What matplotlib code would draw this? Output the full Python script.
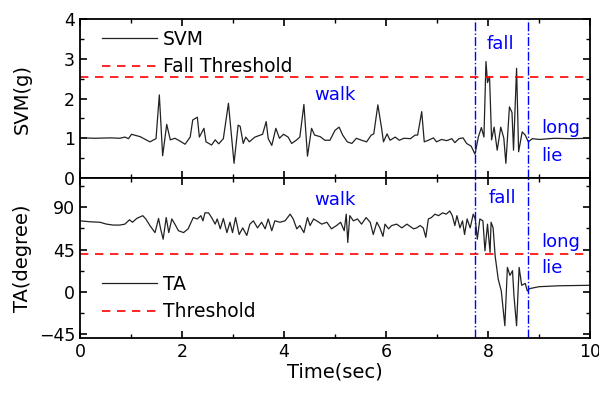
import matplotlib.pyplot as plt
from matplotlib.ticker import MultipleLocator

# SVM signal (g)
svm_t = [0.0, 0.3, 0.6, 0.78, 0.88, 0.95, 1.01, 1.18, 1.37, 1.49, 1.555, 1.62, 1.70,
         1.77, 1.86, 1.96, 2.06, 2.16, 2.21, 2.30, 2.34, 2.43, 2.47, 2.58, 2.65,
         2.72, 2.81, 2.91, 3.02, 3.10, 3.14, 3.20, 3.25, 3.32, 3.40, 3.43, 3.58,
         3.65, 3.69, 3.76, 3.84, 3.91, 3.99, 4.08, 4.15, 4.24, 4.31, 4.39, 4.46,
         4.54, 4.60, 4.71, 4.80, 4.90, 5.00, 5.08, 5.15, 5.24, 5.33, 5.42, 5.52,
         5.62, 5.71, 5.76, 5.84, 5.91, 5.95, 6.02, 6.08, 6.18, 6.26, 6.35, 6.48,
         6.57, 6.62, 6.70, 6.75, 6.83, 6.93, 6.99, 7.09, 7.19, 7.29, 7.35, 7.43,
         7.51, 7.58, 7.67, 7.745, 7.81, 7.87, 7.92, 7.96, 7.99, 8.03, 8.07, 8.12,
         8.18, 8.25, 8.31, 8.35, 8.42, 8.47, 8.50, 8.56, 8.60, 8.67, 8.73, 8.79,
         8.87, 9.01, 9.3, 9.6, 10.0]
svm_g = [1.01, 1.0, 1.01, 1.0, 1.03, 0.99, 1.10, 1.04, 0.91, 0.99, 2.09, 0.56, 1.35,
         0.96, 1.0, 0.93, 0.85, 1.03, 1.46, 1.53, 1.03, 1.25, 0.91, 0.83, 0.96,
         0.86, 0.99, 1.88, 0.37, 1.33, 1.30, 0.87, 1.03, 0.91, 1.0, 1.03, 1.10,
         1.42, 0.99, 0.82, 1.25, 1.0, 1.10, 1.03, 0.87, 0.95, 1.03, 1.85, 0.55,
         1.25, 1.08, 1.04, 0.95, 0.95, 1.20, 1.28, 1.08, 0.91, 0.87, 1.0, 0.95,
         0.91, 1.08, 1.11, 1.84, 1.28, 0.91, 1.11, 0.95, 1.03, 0.95, 1.0, 0.99,
         1.08, 1.08, 1.67, 0.91, 0.95, 1.01, 0.91, 0.97, 0.94, 0.99, 0.89, 0.99,
         1.01, 0.87, 0.80, 0.60, 1.03, 1.27, 1.03, 2.93, 2.40, 2.55, 0.96, 1.28,
         0.70, 1.28, 1.0, 0.37, 1.79, 1.65, 0.70, 2.76, 0.66, 1.16, 1.08, 0.91,
         0.99, 0.97, 1.0, 0.99, 1.0]

# TA signal (degree)
ta_t = [0.0, 0.2, 0.39, 0.52, 0.65, 0.78, 0.88, 0.97, 1.03, 1.11, 1.23, 1.29, 1.37,
        1.47, 1.54, 1.58, 1.63, 1.69, 1.74, 1.80, 1.86, 1.93, 2.03, 2.12, 2.22,
        2.30, 2.37, 2.41, 2.45, 2.52, 2.58, 2.65, 2.69, 2.75, 2.81, 2.88, 2.94,
        2.99, 3.05, 3.12, 3.19, 3.27, 3.33, 3.40, 3.48, 3.56, 3.63, 3.69, 3.76,
        3.82, 3.92, 4.02, 4.12, 4.18, 4.25, 4.31, 4.39, 4.46, 4.51, 4.58, 4.64,
        4.74, 4.84, 4.93, 5.03, 5.11, 5.18, 5.22, 5.25, 5.29, 5.36, 5.44, 5.52,
        5.61, 5.69, 5.75, 5.82, 5.88, 5.94, 5.98, 6.05, 6.11, 6.21, 6.31, 6.41,
        6.54, 6.60, 6.67, 6.73, 6.78, 6.83, 6.89, 6.96, 7.03, 7.11, 7.18, 7.25,
        7.30, 7.35, 7.39, 7.45, 7.50, 7.54, 7.59, 7.65, 7.71, 7.75, 7.79, 7.84,
        7.90, 7.94, 7.99, 8.04, 8.06, 8.10, 8.14, 8.20, 8.26, 8.33, 8.38, 8.43,
        8.48, 8.51, 8.56, 8.61, 8.66, 8.73, 8.77, 8.82, 9.0, 9.4, 10.0]
ta_deg = [75.5, 74.5, 74, 72, 71, 71, 72, 76.6, 74, 78, 81, 77.5, 70.5,
          63, 78, 67, 56, 79, 63, 77.5, 72, 65, 63, 67, 79,
          77.5, 81, 75.5, 84, 84, 79, 72, 77.5, 67, 78, 63, 74,
          63, 79, 61, 68, 60, 72, 75.5, 68, 74, 67, 77.5, 65,
          75.5, 74, 75.5, 82.6, 77.5, 67, 70.5, 63, 79, 70.5, 77.5, 75.5,
          72, 74, 67, 70.5, 74, 65, 82.6, 52.5, 81, 75.5, 77.5, 72,
          79, 74, 61, 74, 68, 59, 72, 67, 70.5, 72, 68, 72,
          67, 68, 70.5, 68, 58, 77.5, 79, 82.6, 81, 84, 82.6, 86,
          81, 70.5, 81, 68, 75.5, 61, 77.5, 68, 82.6, 77.5, 56, 77.5,
          75.5, 43.6, 72, 42, 74, 68, 38, 13.5, 1, -36, 26, 17.5,
          22.5, -5, -36, 26, 7, 9, 1, 3.5, 5.5, 6.5, 7]

svm_threshold = 2.55
ta_threshold = 40
fall_start, fall_end = 7.75, 8.78

plt.rcParams['font.family'] = ['DejaVu Sans']

fig = plt.figure(figsize=(5.99, 3.93), dpi=100)
ax1 = fig.add_axes([0.1336, 0.547, 0.8514, 0.4047])
ax2 = fig.add_axes([0.1336, 0.140, 0.8514, 0.407], sharex=ax1)

leg_kw = dict(frameon=False, fontsize=13.5, handlelength=2.9, handletextpad=0.35,
              borderaxespad=0.1, labelspacing=0.45)

# top panel: SVM
ax1.plot(svm_t, svm_g, color='#222222', lw=0.9, label='SVM')
ax1.axhline(svm_threshold, color='red', ls=(0, (5, 4)), lw=1.2, label='Fall Threshold')
ax1.set_ylim(0, 4)
ax1.set_ylabel('SVM(g)', fontsize=14)
ax1.yaxis.set_major_locator(MultipleLocator(1))
ax1.yaxis.set_minor_locator(MultipleLocator(0.5))
ax1.legend(loc='upper left', bbox_to_anchor=(0.025, 0.99), **leg_kw)
ax1.text(5.0, 1.95, 'walk', color='blue', fontsize=13, ha='center')
ax1.text(8.24, 3.25, 'fall', color='blue', fontsize=13, ha='center')
ax1.text(9.05, 1.12, 'long', color='blue', fontsize=13)
ax1.text(9.05, 0.42, 'lie', color='blue', fontsize=13)
plt.setp(ax1.get_xticklabels(), visible=False)

# bottom panel: TA
ax2.plot(ta_t, ta_deg, color='#222222', lw=0.9, label='TA')
ax2.axhline(ta_threshold, color='red', ls=(0, (5, 4)), lw=1.2, label='Threshold')
ax2.set_ylim(-49, 121)
ax2.set_ylabel('TA(degree)', fontsize=14)
ax2.set_xlabel('Time(sec)', fontsize=14, labelpad=1)
ax2.yaxis.set_major_locator(MultipleLocator(45))
ax2.yaxis.set_minor_locator(MultipleLocator(22.5))
ax2.legend(loc='lower left', bbox_to_anchor=(0.025, 0.045), **leg_kw)
ax2.text(5.0, 92, 'walk', color='blue', fontsize=13, ha='center')
ax2.text(8.28, 94, 'fall', color='blue', fontsize=13, ha='center')
ax2.text(9.05, 48, 'long', color='blue', fontsize=13)
ax2.text(9.05, 20, 'lie', color='blue', fontsize=13)

for ax in (ax1, ax2):
    ax.set_xlim(0, 10)
    ax.xaxis.set_major_locator(MultipleLocator(2))
    ax.xaxis.set_minor_locator(MultipleLocator(1))
    ax.axvline(fall_start, color='blue', ls='-.', lw=1)
    ax.axvline(fall_end, color='blue', ls='-.', lw=1)
    ax.tick_params(which='both', direction='in', top=True, right=True, labelsize=12.5)
    ax.tick_params(which='major', length=5, width=1.2)
    ax.tick_params(which='minor', length=3, width=1)
    for s in ax.spines.values():
        s.set_linewidth(1.3)

ax1.yaxis.set_label_coords(-0.095, 0.5)
ax2.yaxis.set_label_coords(-0.095, 0.5)

fig.savefig('out.png', dpi=100)
